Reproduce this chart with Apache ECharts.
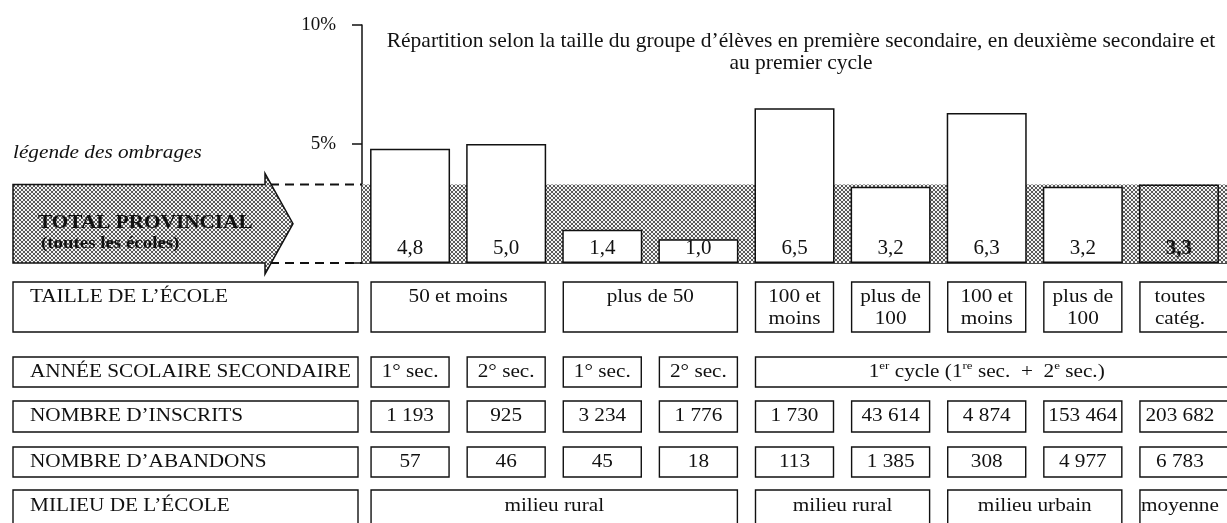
<!DOCTYPE html>
<html>
<head>
<meta charset="utf-8">
<script src="https://cdn.jsdelivr.net/npm/echarts@6/dist/echarts.min.js"></script>
<style>
html,body{margin:0;padding:0;background:#fff;}
#c{width:1227px;height:523px;}
</style>
</head>
<body>
<div id="c"></div>
<script>
// ---------- DATA ----------
const categories = ['1re sec. (50 et moins)', '2e sec. (50 et moins)', '1re sec. (plus de 50)', '2e sec. (plus de 50)',
  '1er cycle rural (100 et moins)', '1er cycle rural (plus de 100)', '1er cycle urbain (100 et moins)', '1er cycle urbain (plus de 100)', 'Total provincial'];
const rates = [4.8, 5.0, 1.4, 1.0, 6.5, 3.2, 6.3, 3.2, 3.3];
const totalProvincial = 3.3;
const totalIndex = 8;
const yTickValues = [0, 5, 10];
const yTickLabels = ['', '5%', '10%'];
const titleText = 'Répartition selon la taille du groupe d\u2019élèves en première secondaire, en deuxième secondaire et\nau premier cycle';
const legendTitle = 'légende des ombrages';
const legendLine1 = 'TOTAL PROVINCIAL';
const legendLine2 = '(toutes les écoles)';
const rowLabels = ['TAILLE DE L\u2019ÉCOLE', 'ANNÉE SCOLAIRE SECONDAIRE', 'NOMBRE D\u2019INSCRITS', 'NOMBRE D\u2019ABANDONS', 'MILIEU DE L\u2019ÉCOLE'];
const tailleCells = [['50 et moins', 0, 1], ['plus de 50', 2, 3], ['100 et\nmoins', 4, 4], ['plus de\n100', 5, 5], ['100 et\nmoins', 6, 6], ['plus de\n100', 7, 7], ['toutes\ncatég.', 8, 8]];
const anneeCells = [['1° sec.', 0, 0], ['2° sec.', 1, 1], ['1° sec.', 2, 2], ['2° sec.', 3, 3], ['1{s|er} cycle (1{s|re} sec.  +  2{s|e} sec.)', 4, 8]];
const inscrits = ['1 193', '925', '3 234', '1 776', '1 730', '43 614', '4 874', '153 464', '203 682'];
const abandons = ['57', '46', '45', '18', '113', '1 385', '308', '4 977', '6 783'];
const milieuCells = [['milieu rural', 0, 3], ['milieu rural', 4, 5], ['milieu urbain', 6, 7], ['moyenne', 8, 8]];

// ---------- STYLE ----------
const SERIF = '"Liberation Serif", "DejaVu Serif", serif';
const SX = 1.18; // scanned type is wider than Liberation Serif
function makePattern() {
  const c = document.createElement('canvas');
  c.width = 4; c.height = 4;
  const g = c.getContext('2d');
  g.fillStyle = '#f4f4f4'; g.fillRect(0, 0, 4, 4);
  g.fillStyle = '#5a5a5a';
  [[0,0],[1,1],[2,2],[3,3],[3,0],[2,1],[1,2],[0,3]].forEach(p => g.fillRect(p[0], p[1], 1, 1));
  return { image: c, repeat: 'repeat' };
}
const shade = makePattern();

const chart = echarts.init(document.getElementById('c'), null, { renderer: 'canvas' });
const fmt = v => v.toFixed(1).replace('.', ',');

chart.setOption({
  animation: false,
  backgroundColor: '#fff',
  title: {
    text: titleText,
    left: 796, top: 25, textAlign: 'center',
    textStyle: { fontFamily: SERIF, fontSize: 21.5, fontWeight: 'normal', color: '#111', lineHeight: 22 }
  },
  grid: { left: 362, right: -1, top: 25, bottom: 260, containLabel: false },
  xAxis: {
    type: 'category', data: categories,
    axisLine: { show: true, lineStyle: { color: '#111', width: 1.5 } },
    axisTick: { show: false }, axisLabel: { show: false }, splitLine: { show: false }
  },
  yAxis: {
    type: 'value', min: 0, max: 10, interval: 5,
    axisLine: { show: true, lineStyle: { color: '#111', width: 1.5 } },
    axisTick: { show: true, length: 10, lineStyle: { color: '#111', width: 1.5 } },
    axisLabel: {
      margin: 26, fontFamily: SERIF, fontSize: 19, color: '#111',
      formatter: v => yTickLabels[yTickValues.indexOf(v)] || ''
    },
    splitLine: { show: false }
  },
  series: [{
    type: 'bar',
    barWidth: 80,
    data: rates.map((v, i) => i === totalIndex
      ? { value: v, itemStyle: { color: shade, borderColor: '#111', borderWidth: 1.5 },
          label: { color: '#111', fontWeight: 'bold' } }
      : v),
    itemStyle: { color: '#fff', borderColor: '#111', borderWidth: 1.5 },
    label: {
      show: true, position: 'insideBottom', distance: 4,
      fontFamily: SERIF, fontSize: 21, color: '#111',
      formatter: p => fmt(p.value)
    },
    markArea: {
      silent: true,
      itemStyle: { color: shade },
      data: [[{ yAxis: 0 }, { yAxis: totalProvincial }]]
    },
    z: 3
  }]
});

// ---------- TABLE / LEGEND (positions from the axes) ----------
function build() {
  const W = chart.getWidth();
  const cx = i => chart.convertToPixel({ xAxisIndex: 0 }, categories[i]);
  const py = v => chart.convertToPixel({ yAxisIndex: 0 }, v);
  const half = 39;
  const lastIdx = categories.length - 1;
  const yTop = py(totalProvincial), yBase = py(0);
  const axisX = cx(0) - (cx(1) - cx(0)) / 2;
  const els = [];
  const box = (x1, y1, x2, y2) => els.push({
    type: 'rect', shape: { x: x1, y: y1, width: x2 - x1, height: y2 - y1 },
    style: { fill: '#fff', stroke: '#111', lineWidth: 1.4 }, z: 10
  });
  const txt = (text, x, y, align, vAlign, extra) => els.push({
    type: 'text', x: x, y: y, z: 11, scaleX: SX, originX: 0, originY: 0,
    style: Object.assign({ text: text, x: 0, y: 0, fontFamily: SERIF, fontSize: 18, fill: '#111', align: align, verticalAlign: vAlign, lineHeight: 22 }, extra || {})
  });
  const rows = [[282, 332, true], [357, 387, false], [401, 432, false], [447, 477, false], [490, 545, false]];
  const labelL = 13, labelR = 358;
  rows.forEach((r, k) => {
    box(labelL, r[0], labelR, r[1]);
    txt(rowLabels[k], labelL + 17, r[2] ? r[0] + 4 : (r[0] + Math.min(r[1], 523)) / 2, 'left', r[2] ? 'top' : 'middle');
  });
  const spanCells = (cells, r, top) => cells.forEach(c => {
    const x1 = cx(c[1]) - half;
    const x2 = c[2] === lastIdx ? W + 2 : cx(c[2]) + half;
    box(x1, r[0], x2, r[1]);
    const tx = c[2] === lastIdx && c[1] === lastIdx ? cx(lastIdx) + 1 : (x1 + Math.min(x2, cx(c[2]) + half)) / 2;
    txt(c[0], tx, top ? r[0] + 4 : (r[0] + Math.min(r[1], 523)) / 2, 'center', top ? 'top' : 'middle',
      { rich: { s: { fontFamily: SERIF, fontSize: 11, verticalAlign: 'top', lineHeight: 22, fill: '#111' } } });
  });
  spanCells(tailleCells, rows[0], true);
  spanCells(anneeCells, rows[1], false);
  spanCells(inscrits.map((t, i) => [t, i, i]), rows[2], false);
  spanCells(abandons.map((t, i) => [t, i, i]), rows[3], false);
  spanCells(milieuCells, rows[4], false);

  // legend arrow
  const aL = 13, aR = 265, tip = 293, over = 11;
  const mid = (yTop + yBase) / 2;
  els.push({
    type: 'polygon', z: 10,
    shape: { points: [[aL, yTop], [aR, yTop], [aR, yTop - over], [tip, mid], [aR, yBase + over], [aR, yBase], [aL, yBase]] },
    style: { fill: shade, stroke: '#111', lineWidth: 1.5 }
  });
  txt(legendLine1, aL + 25, mid, 'left', 'middle', { fontWeight: 'bold', fontSize: 18, fill: '#111' });
  txt(legendLine2, aL + 28, mid + 20, 'left', 'middle', { fontSize: 16, fill: '#111', fontWeight: 'bold' });
  txt(legendTitle, aL, 153, 'left', 'middle', { fontStyle: 'italic', fontSize: 18 });
  [yTop, yBase].forEach(y => els.push({
    type: 'line', z: 9, shape: { x1: 270, y1: y, x2: axisX, y2: y },
    style: { stroke: '#111', lineWidth: 2, lineDash: [9, 6] }
  }));
  chart.setOption({ graphic: els });
}
build();
</script>
</body>
</html>
